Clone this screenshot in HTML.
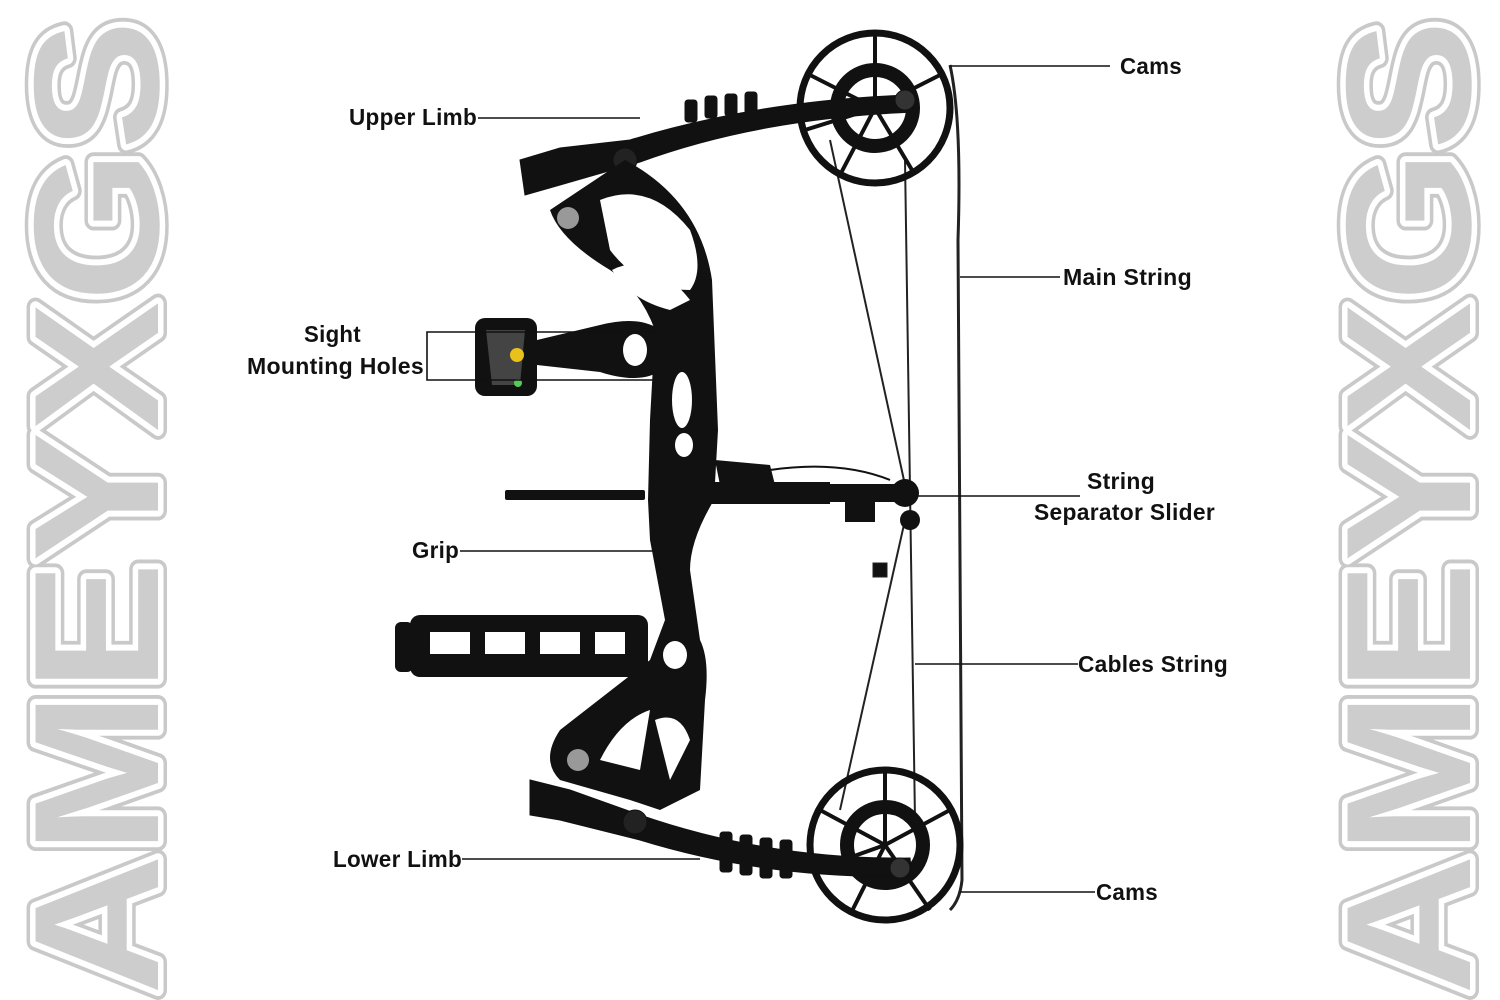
<!DOCTYPE html>
<html><head><meta charset="utf-8"><style>
html,body{margin:0;padding:0;background:#fff;}
svg{display:block;}
.lb{font-family:"Liberation Sans",sans-serif;font-weight:bold;font-size:23px;fill:#111;letter-spacing:0.3px;}
</style></head><body>
<svg width="1500" height="1000" viewBox="0 0 1500 1000" xmlns="http://www.w3.org/2000/svg">
<g font-family="Liberation Sans, sans-serif" font-weight="bold" font-size="178">
 <g transform="translate(158,995) rotate(-90)">
  <text x="0" y="0" textLength="975" lengthAdjust="spacingAndGlyphs" fill="none" stroke="#c9c9c9" stroke-width="18" stroke-linejoin="round">AMEYXGS</text>
  <text x="0" y="0" textLength="975" lengthAdjust="spacingAndGlyphs" fill="none" stroke="#fff" stroke-width="11" stroke-linejoin="round">AMEYXGS</text>
  <text x="0" y="0" textLength="975" lengthAdjust="spacingAndGlyphs" fill="#cdcdcd">AMEYXGS</text>
 </g>
 <g transform="translate(1470,995) rotate(-90)">
  <text x="0" y="0" textLength="975" lengthAdjust="spacingAndGlyphs" fill="none" stroke="#c9c9c9" stroke-width="18" stroke-linejoin="round">AMEYXGS</text>
  <text x="0" y="0" textLength="975" lengthAdjust="spacingAndGlyphs" fill="none" stroke="#fff" stroke-width="11" stroke-linejoin="round">AMEYXGS</text>
  <text x="0" y="0" textLength="975" lengthAdjust="spacingAndGlyphs" fill="#cdcdcd">AMEYXGS</text>
 </g>
</g>

<g stroke="#222" fill="none">
 <path d="M950 65 Q962 120 958 240 L962 880 Q960 900 950 910" stroke-width="3"/>
 <line x1="830" y1="140" x2="905" y2="485" stroke-width="2"/>
 <line x1="905" y1="160" x2="915" y2="820" stroke-width="2"/>
 <line x1="905" y1="520" x2="840" y2="810" stroke-width="2"/>
 <rect x="873" y="563" width="14" height="14" fill="#111"/>
</g>

<g fill="none" stroke="#111">
 <circle cx="875" cy="108" r="75" stroke-width="7"/>
 <circle cx="875" cy="108" r="38" stroke-width="14"/>
 <g stroke-width="4">
  <line x1="875" y1="108" x2="875" y2="34"/><line x1="875" y1="108" x2="940" y2="75"/>
  <line x1="875" y1="108" x2="810" y2="75"/><line x1="875" y1="108" x2="840" y2="175"/>
  <line x1="875" y1="108" x2="915" y2="175"/><line x1="875" y1="108" x2="805" y2="130"/>
 </g>
 <circle cx="885" cy="845" r="75" stroke-width="7"/>
 <circle cx="885" cy="845" r="38" stroke-width="14"/>
 <g stroke-width="4">
  <line x1="885" y1="845" x2="885" y2="770"/><line x1="885" y1="845" x2="950" y2="810"/>
  <line x1="885" y1="845" x2="820" y2="810"/><line x1="885" y1="845" x2="850" y2="915"/>
  <line x1="885" y1="845" x2="930" y2="910"/><line x1="885" y1="845" x2="815" y2="870"/>
 </g>
</g>

<g fill="#111" stroke="#111">
 <path d="M520 160 L560 148 L630 140 Q760 100 910 95 L915 112 Q760 118 640 162 L560 185 L525 195 Z"/>
 <g><rect x="685" y="100" width="12" height="22" rx="3"/><rect x="705" y="96" width="12" height="22" rx="3"/><rect x="725" y="94" width="12" height="22" rx="3"/><rect x="745" y="92" width="12" height="22" rx="3"/></g>
 <path d="M530 780 L570 790 L640 815 Q770 860 910 858 L912 876 Q770 880 640 840 L560 820 L530 815 Z"/>
 <g><rect x="720" y="832" width="12" height="40" rx="3"/><rect x="740" y="835" width="12" height="40" rx="3"/><rect x="760" y="838" width="12" height="40" rx="3"/><rect x="780" y="840" width="12" height="38" rx="3"/></g>
 <circle cx="625" cy="160" r="12" fill="#222"/><circle cx="635" cy="822" r="12" fill="#222"/>
 <circle cx="905" cy="100" r="10" fill="#333"/><circle cx="900" cy="868" r="10" fill="#333"/>
</g>

<g fill="#111">
 <path d="M625 160 Q700 200 712 280 L718 430 L714 500 Q690 540 690 570 L700 640 Q710 660 705 700 L700 790 L660 810 L630 800 L560 780 Q540 760 560 730 L650 660 L665 620 L650 540 L648 500 L650 420 L655 330 Q640 290 610 270 Q560 240 550 210 Z"/>
</g>
<g fill="#fff">
 <path d="M600 200 Q650 180 690 230 Q705 270 690 290 Q640 290 610 250 Z"/>
 <path d="M612 270 Q650 250 690 300 L670 310 Q630 300 612 270 Z"/>
 <ellipse cx="682" cy="400" rx="10" ry="28"/>
 <ellipse cx="684" cy="445" rx="9" ry="12"/>
 <ellipse cx="675" cy="655" rx="12" ry="14"/>
 <path d="M600 760 Q620 720 650 710 L640 770 Z"/>
 <path d="M655 720 Q680 710 690 740 L670 780 Z"/>
</g>
<circle cx="568" cy="218" r="11" fill="#999"/>
<circle cx="578" cy="760" r="11" fill="#999"/>
<g fill="#111">
 <rect x="505" y="490" width="140" height="10" rx="2"/>
 <rect x="650" y="482" width="180" height="22"/>
 <rect x="820" y="484" width="85" height="18"/>
 <rect x="845" y="490" width="30" height="32"/>
 <circle cx="905" cy="493" r="14"/><circle cx="910" cy="520" r="10"/>
 <path d="M715 460 L770 465 L775 485 L720 485 Z"/>
 <path d="M770 470 Q840 460 890 480" stroke="#111" stroke-width="2" fill="none"/>
</g>
<g fill="#111">
 <rect x="395" y="622" width="18" height="50" rx="6"/>
 <rect x="410" y="615" width="238" height="62" rx="10"/>
</g>
<g fill="#fff"><rect x="430" y="632" width="40" height="22"/><rect x="485" y="632" width="40" height="22"/><rect x="540" y="632" width="40" height="22"/><rect x="595" y="632" width="30" height="22"/></g>
<g fill="#111">
 <rect x="475" y="318" width="62" height="78" rx="10"/>
 <path d="M537 340 L600 325 Q640 315 660 330 L662 370 Q640 385 600 372 L537 365 Z"/>
</g>
<g fill="#fff"><path d="M486 330 L525 330 L520 385 L492 385 Z" fill="#444"/><ellipse cx="635" cy="350" rx="12" ry="16"/></g>
<circle cx="517" cy="355" r="7" fill="#e8c21a"/><circle cx="518" cy="383" r="4" fill="#5c5"/>

<g stroke="#111" stroke-width="1.6" fill="none">
 <line x1="950" y1="66" x2="1110" y2="66"/>
 <line x1="478" y1="118" x2="640" y2="118"/>
 <line x1="960" y1="277" x2="1060" y2="277"/>
 <path d="M655 332 L427 332 L427 380 L655 380"/>
 <line x1="915" y1="496" x2="1080" y2="496"/>
 <line x1="460" y1="551" x2="655" y2="551"/>
 <line x1="915" y1="664" x2="1078" y2="664"/>
 <line x1="462" y1="859" x2="700" y2="859"/>
 <line x1="960" y1="892" x2="1095" y2="892"/>
</g>
<g class="lb">
 <text x="1120" y="74" textLength="62" lengthAdjust="spacingAndGlyphs">Cams</text>
 <text x="349" y="125" textLength="128" lengthAdjust="spacingAndGlyphs">Upper Limb</text>
 <text x="1063" y="285" textLength="129" lengthAdjust="spacingAndGlyphs">Main String</text>
 <text x="304" y="342" textLength="57" lengthAdjust="spacingAndGlyphs">Sight</text>
 <text x="247" y="374" textLength="177" lengthAdjust="spacingAndGlyphs">Mounting Holes</text>
 <text x="1087" y="489" textLength="68" lengthAdjust="spacingAndGlyphs">String</text>
 <text x="1034" y="520" textLength="181" lengthAdjust="spacingAndGlyphs">Separator Slider</text>
 <text x="412" y="558" textLength="47" lengthAdjust="spacingAndGlyphs">Grip</text>
 <text x="1078" y="672" textLength="150" lengthAdjust="spacingAndGlyphs">Cables String</text>
 <text x="333" y="867" textLength="129" lengthAdjust="spacingAndGlyphs">Lower Limb</text>
 <text x="1096" y="900" textLength="62" lengthAdjust="spacingAndGlyphs">Cams</text>
</g>
</svg>
</body></html>
